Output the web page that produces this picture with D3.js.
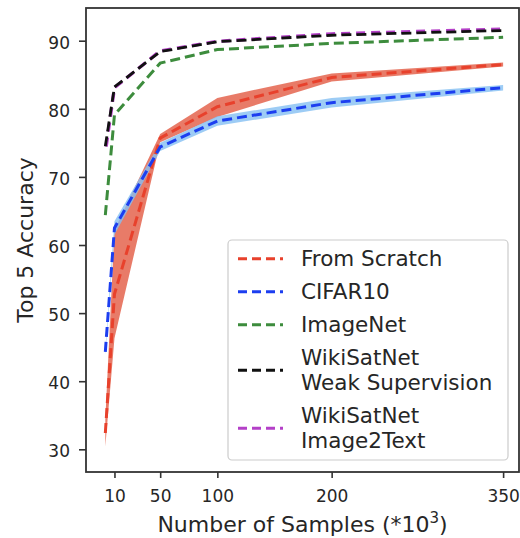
<!DOCTYPE html>
<html>
<head>
<meta charset="utf-8">
<script src="https://cdn.jsdelivr.net/npm/d3@7"></script>
<style>
  html, body { margin: 0; padding: 0; background: #fff; }
  svg { display: block; font-family: "DejaVu Sans", sans-serif; }
</style>
</head>
<body>
<svg id="chart" width="520" height="538"></svg>
<script>
// ---- data ----
const samples = [2, 10, 50, 100, 200, 350];
const xTickValues = [10, 50, 100, 200, 350];
const yTickValues = [30, 40, 50, 60, 70, 80, 90];

const scratchMean = [32.4, 52.8, 75.7, 80.3, 84.6, 86.5];
const scratchLow  = [30.4, 46.3, 75.1, 78.8, 84.0, 86.2];
const scratchHigh = [34.4, 62.2, 76.3, 81.6, 85.2, 86.8];

const cifarMean = [44.3, 62.5, 74.4, 78.2, 80.9, 83.1];
const cifarLow  = [43.9, 61.5, 73.8, 77.5, 80.2, 82.7];
const cifarHigh = [44.7, 63.5, 75.0, 78.9, 81.6, 83.5];

const imagenetMean = [64.4, 79.1, 86.7, 88.7, 89.6, 90.5];
const weakSupMean  = [74.5, 83.2, 88.4, 89.85, 90.8, 91.5];
const img2textMean = [73.6, 83.1, 88.5, 89.9, 91.0, 91.7];

const legendLabels = [
  ["From Scratch"],
  ["CIFAR10"],
  ["ImageNet"],
  ["WikiSatNet", "Weak Supervision"],
  ["WikiSatNet", "Image2Text"]
];

// ---- styles ----
const colors = ["#e8412c", "#1c3ef0", "#3d8c3d", "#111111", "#b440c8"];
const fillColors = { scratch: "#e4644e", cifar: "#84bff2" };
const textColor = "#262626";
const spineColor = "#333333";

// ---- layout ----
const svg = d3.select("#chart");
const plot = { left: 86, right: 519, top: 8, bottom: 472 };

const x = d3.scaleLinear().domain([-14.9, 363.9]).range([plot.left, plot.right]);
const y = d3.scaleLinear().domain([26.67, 94.8]).range([plot.bottom, plot.top]);

const line = d3.line().x((d, i) => x(samples[i])).y(d => y(d));
const area = (lo, hi) => d3.area()
  .x((d, i) => x(samples[i]))
  .y0((d, i) => y(lo[i]))
  .y1((d, i) => y(hi[i]))(samples);

const g = svg.append("g");

// bands
g.append("path").attr("d", area(scratchLow, scratchHigh))
  .attr("fill", fillColors.scratch).attr("opacity", 0.85);
g.append("path").attr("d", area(cifarLow, cifarHigh))
  .attr("fill", fillColors.cifar).attr("opacity", 0.8);

const dash = "10,5";
const series = [scratchMean, cifarMean, imagenetMean];
series.forEach((s, i) => {
  g.append("path").attr("d", line(s)).attr("fill", "none")
    .attr("stroke", colors[i]).attr("stroke-width", 3)
    .attr("stroke-dasharray", dash);
});
// purple underneath, offset dash so it shows in the black gaps
g.append("path").attr("d", line(img2textMean)).attr("fill", "none")
  .attr("stroke", colors[4]).attr("stroke-width", 3.4)
  .attr("stroke-dasharray", "9,6").attr("stroke-dashoffset", 9);
g.append("path").attr("d", line(weakSupMean)).attr("fill", "none")
  .attr("stroke", colors[3]).attr("stroke-width", 2.8)
  .attr("stroke-dasharray", dash);

// axes
const xAxis = d3.axisBottom(x).tickValues(xTickValues).tickSize(6).tickPadding(5);
const yAxis = d3.axisLeft(y).tickValues(yTickValues).tickSize(7).tickPadding(9);

const gx = svg.append("g").attr("transform", `translate(0,${plot.bottom})`).call(xAxis);
const gy = svg.append("g").attr("transform", `translate(${plot.left},0)`).call(yAxis);
[gx, gy].forEach(a => {
  a.select(".domain").remove();
  a.selectAll(".tick line").attr("stroke", spineColor).attr("stroke-width", 1.6);
  a.selectAll(".tick text").attr("fill", textColor)
    .attr("font-size", 17).attr("font-family", "DejaVu Sans");
});
gx.selectAll(".tick text").attr("dy", null).attr("y", 29.7);
gy.selectAll(".tick text").attr("dy", null).attr("dominant-baseline", "auto").attr("y", 7.5);

// frame
svg.append("rect")
  .attr("x", plot.left).attr("y", plot.top)
  .attr("width", plot.right - plot.left).attr("height", plot.bottom - plot.top)
  .attr("fill", "none").attr("stroke", spineColor).attr("stroke-width", 1.8);

// axis labels
const xl = svg.append("text")
  .attr("x", (plot.left + plot.right) / 2).attr("y", 531.7)
  .attr("text-anchor", "middle").attr("font-size", 22).attr("fill", textColor);
xl.append("tspan").text("Number of Samples (*10");
xl.append("tspan").attr("font-size", 15).attr("dy", -9).text("3");
xl.append("tspan").attr("dy", 9).text(")");

svg.append("text")
  .attr("transform", `translate(33,${(plot.top + plot.bottom) / 2}) rotate(-90)`)
  .attr("text-anchor", "middle").attr("font-size", 22).attr("fill", textColor)
  .text("Top 5 Accuracy");

// legend
const leg = svg.append("g");
leg.append("rect").attr("x", 228).attr("y", 240).attr("width", 280).attr("height", 220)
  .attr("rx", 4).attr("fill", "#fff").attr("fill-opacity", 0.85)
  .attr("stroke", "#cccccc").attr("stroke-width", 1.2);

let baseline = 266;
legendLabels.forEach((lines, i) => {
  const first = baseline;
  const last = baseline + 25 * (lines.length - 1);
  const hy = (first + last) / 2 - 7.3;
  leg.append("line").attr("x1", 238).attr("x2", 283).attr("y1", hy).attr("y2", hy)
    .attr("stroke", colors[i]).attr("stroke-width", 3).attr("stroke-dasharray", "9,5");
  lines.forEach((t, j) => {
    leg.append("text").attr("x", 301).attr("y", first + 25 * j)
      .attr("font-size", 21.5).attr("textLength", null)
      .attr("fill", textColor).text(t);
  });
  baseline = last + 33;
});
</script>
</body>
</html>
